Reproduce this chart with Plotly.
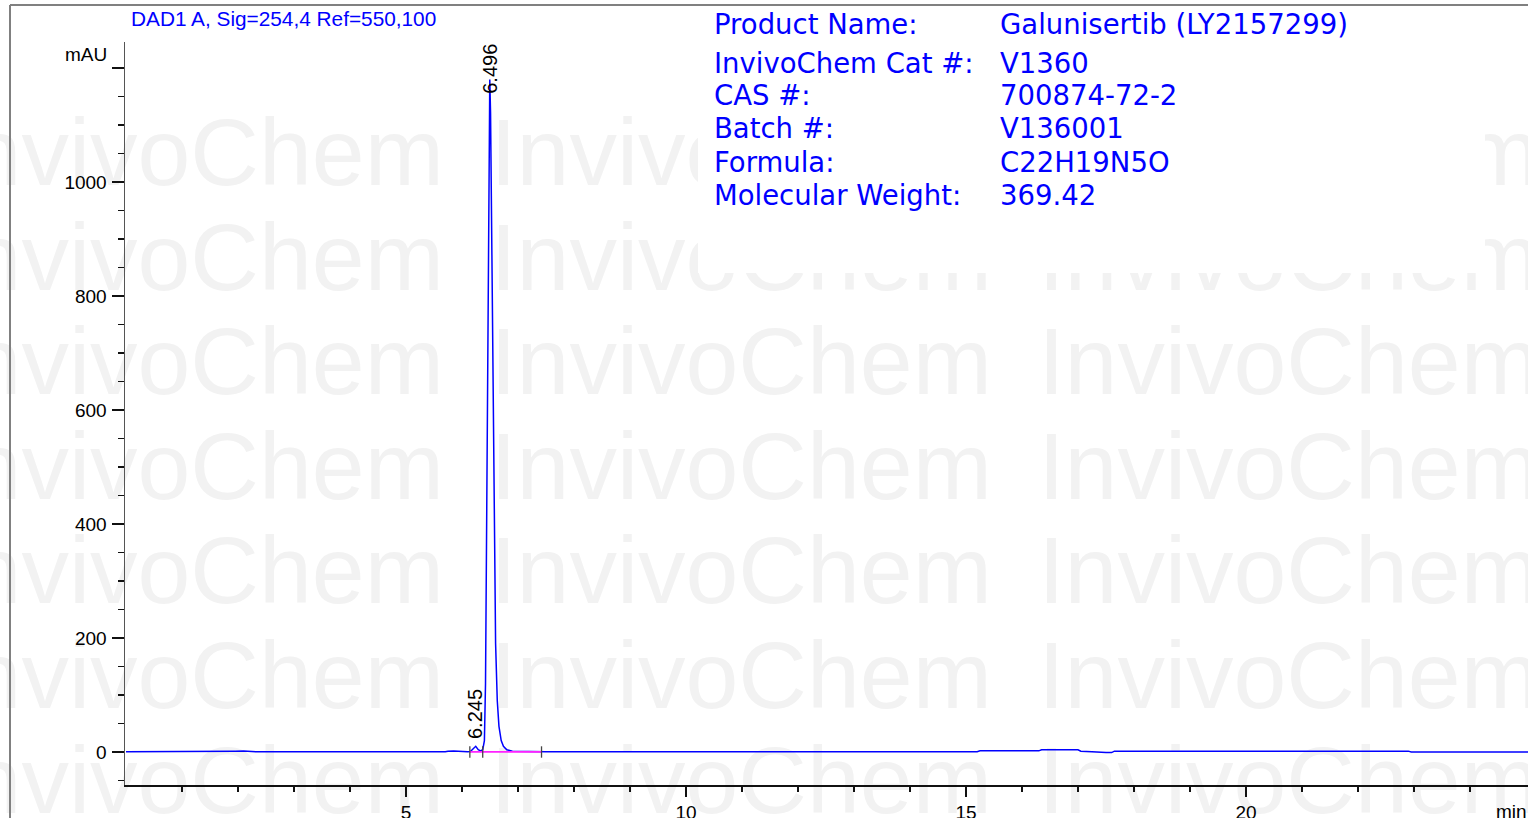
import plotly.graph_objects as go

# ---------------- data ----------------
time_min = [0, 1.9, 1.95, 2.1, 2.27, 2.32, 5.7, 5.75, 5.85, 5.9, 5.95, 6.1, 6.15, 6.2,
            6.245, 6.29, 6.33, 6.37, 6.40, 6.42, 6.44, 6.46, 6.48, 6.496, 6.51, 6.53,
            6.55, 6.57, 6.60, 6.63, 6.66, 6.70, 6.74, 6.80, 6.90, 7.5, 10, 15.2, 15.25,
            16.3, 16.35, 17.0, 17.05, 17.2, 17.25, 17.5, 17.55, 17.6, 17.65, 22.9,
            22.95, 25.04]
signal_mau = [0.3, 0.3, 1.5, 1.8, 1.5, 0.3, 0.3, 1.5, 1.8, 1.5, 0.5, 0.5, 1, 5,
              10, 4, 2, 4, 20, 120, 420, 800, 1080, 1180, 1120, 900,
              600, 380, 190, 90, 45, 20, 10, 4, 1.5, 0.5, 0.5, 0.5, 2,
              2, 4, 4, 1.5, 1.5, 0.5, -1, -1.5, -1, 1.5, 1.5,
              0, 0]

peak_rt = [6.245, 6.496]
peak_height = [10, 1180]
peak_labels = ["6.245", "6.496"]

baseline_t = [6.14, 7.42]
baseline_v = [0.3, 0.3]
event_times = [6.14, 6.37, 7.42]

x_tickvals = [5, 10, 15, 20]
x_ticktext = ["5", "10", "15", "20"]
x_minor = [t for t in range(1, 25) if t % 5 != 0]
y_tickvals = [0, 200, 400, 600, 800, 1000, 1200]
y_ticktext = ["0", "200", "400", "600", "800", "1000", ""]

title_text = "DAD1 A, Sig=254,4 Ref=550,100"
info_labels = ["Product Name:", "InvivoChem Cat #:", "CAS #:", "Batch #:", "Formula:",
               "Molecular Weight:"]
info_values = ["Galunisertib (LY2157299)", "V1360", "700874-72-2", "V136001",
               "C22H19N5O", "369.42"]
watermark = "InvivoChem"

# ---------------- layout geometry (pixels) ----------------
W, H = 1528, 818
PL, PR, PT, PB = 125, 1528, 42, 785          # plot area
X0_PX, X_PER_MIN = 126.0, 56.0               # x scale
Y0_PX, Y_PER_MAU = 752.0, 0.57               # y scale
xr = [(PL - X0_PX) / X_PER_MIN, (PR - X0_PX) / X_PER_MIN]
yr = [(Y0_PX - PB) / Y_PER_MAU, (Y0_PX - PT) / Y_PER_MAU]

fig = go.Figure()

# watermark (on full-figure pixel axes, drawn beneath the chart subplot)
wm_cols = [193, 741, 1289]
wm_base = [190, 295, 399, 504, 608, 713, 818]
wm_size = 95
wx, wy = [], []
for b in wm_base:
    for c in wm_cols:
        wx.append(c)
        wy.append(b - 0.30 * wm_size)
fig.add_trace(go.Scatter(x=wx, y=wy, mode="text", text=[watermark] * len(wx),
                         textposition="middle center",
                         textfont=dict(family="Liberation Sans, Arial", size=wm_size,
                                       color="#f2f2f2"),
                         hoverinfo="skip", showlegend=False, xaxis="x", yaxis="y"))

# chromatogram
fig.add_trace(go.Scatter(x=time_min, y=signal_mau, mode="lines",
                         line=dict(color="#0000ff", width=1.5),
                         hoverinfo="skip", showlegend=False, xaxis="x2", yaxis="y2"))
# integration baseline
fig.add_trace(go.Scatter(x=baseline_t, y=baseline_v, mode="lines",
                         line=dict(color="#ff22ff", width=1.6),
                         hoverinfo="skip", showlegend=False, xaxis="x2", yaxis="y2"))
# integration event marks
ex, ey = [], []
for t in event_times:
    ex += [t, t, None]
    ey += [-10, 10, None]
fig.add_trace(go.Scatter(x=ex, y=ey, mode="lines", line=dict(color="#444444", width=1.3),
                         hoverinfo="skip", showlegend=False, xaxis="x2", yaxis="y2"))

tickfont = dict(family="Liberation Sans, Arial", size=19, color="black")

fig.update_layout(
    template="none",
    width=W, height=H, autosize=False,
    margin=dict(l=0, r=0, t=0, b=0, pad=0),
    paper_bgcolor="white", plot_bgcolor="rgba(0,0,0,0)",
    showlegend=False,
    xaxis=dict(domain=[0, 1], range=[0, W], visible=False, fixedrange=True, anchor="y",
               automargin=False),
    yaxis=dict(domain=[0, 1], range=[H, 0], visible=False, fixedrange=True, anchor="x",
               automargin=False),
    xaxis2=dict(domain=[PL / W, 1], range=xr, anchor="y2", showgrid=False, zeroline=False,
                automargin=False, fixedrange=True,
                showline=True, linecolor="#111111", linewidth=1.5,
                tickmode="array", tickvals=x_tickvals, ticktext=x_ticktext,
                ticks="outside", ticklen=10, tickwidth=1.3, tickcolor="#111111",
                minor=dict(tickmode="array", tickvals=x_minor, ticks="outside",
                           ticklen=5, tickwidth=1.3, tickcolor="#111111", showgrid=False),
                tickfont=tickfont, ticklabelstandoff=0),
    yaxis2=dict(domain=[(H - PB) / H, (H - PT) / H], range=yr, anchor="x2",
                showgrid=False, zeroline=False, automargin=False, fixedrange=True,
                showline=True, linecolor="#555555", linewidth=1.5,
                tickmode="array", tickvals=y_tickvals, ticktext=y_ticktext,
                ticks="outside", ticklen=12, tickwidth=1.3, tickcolor="#111111",
                minor=dict(dtick=50, tick0=0, ticks="outside", ticklen=6, tickwidth=1.3,
                           tickcolor="#111111", showgrid=False),
                tickfont=tickfont, ticklabelstandoff=1),
)

shapes = [
    # white panel behind product info
    dict(type="rect", xref="x", yref="y", x0=698, x1=1485, y0=7, y1=273,
         fillcolor="white", line=dict(width=0), layer="above"),
    # outer frame
    dict(type="line", xref="x", yref="y", x0=10, x1=10, y0=5, y1=H,
         line=dict(color="#808080", width=2), layer="above"),
    dict(type="line", xref="x", yref="y", x0=10, x1=W, y0=5, y1=5,
         line=dict(color="#808080", width=2), layer="above"),
]
fig.update_layout(shapes=shapes)

ann = []
ann.append(dict(text=title_text, xref="x", yref="y", x=130, y=18, xanchor="left",
                yanchor="middle", showarrow=False, borderpad=0,
                font=dict(family="Liberation Sans, Arial", size=20.8, color="#0000ff")))
ann.append(dict(text="mAU", xref="x", yref="y", x=108, y=54, xanchor="right",
                yanchor="middle", showarrow=False, borderpad=0, font=tickfont))
ann.append(dict(text="min", xref="x", yref="y", x=1495, y=811, xanchor="left",
                yanchor="middle", showarrow=False, borderpad=0, font=tickfont))

info_y = [24, 63, 95, 128, 162, 195]
info_font = dict(family="DejaVu Sans", size=27.5, color="#0000ff")
for lab, val, yy in zip(info_labels, info_values, info_y):
    ann.append(dict(text=lab, xref="x", yref="y", x=713, y=yy, xanchor="left",
                    yanchor="middle", showarrow=False, borderpad=0, font=info_font))
    ann.append(dict(text=val, xref="x", yref="y", x=999, y=yy, xanchor="left",
                    yanchor="middle", showarrow=False, borderpad=0, font=info_font))

# peak retention-time labels
ann.append(dict(text=peak_labels[0], xref="x2", yref="y2", x=peak_rt[0], y=peak_height[0],
                xanchor="center", yanchor="bottom", yshift=6, textangle=-90,
                showarrow=False, borderpad=0,
                font=dict(family="Liberation Sans, Arial", size=20, color="black")))
ann.append(dict(text=peak_labels[1], xref="x2", yref="y2", x=peak_rt[1], y=yr[1],
                xanchor="center", yanchor="top", yshift=-1, textangle=-90,
                showarrow=False, borderpad=0,
                font=dict(family="Liberation Sans, Arial", size=20, color="black")))
fig.update_layout(annotations=ann)

fig.write_html("out.html", config={"displayModeBar": False, "staticPlot": True},
               post_script="document.body.style.margin='0';document.body.style.overflow='hidden';")
